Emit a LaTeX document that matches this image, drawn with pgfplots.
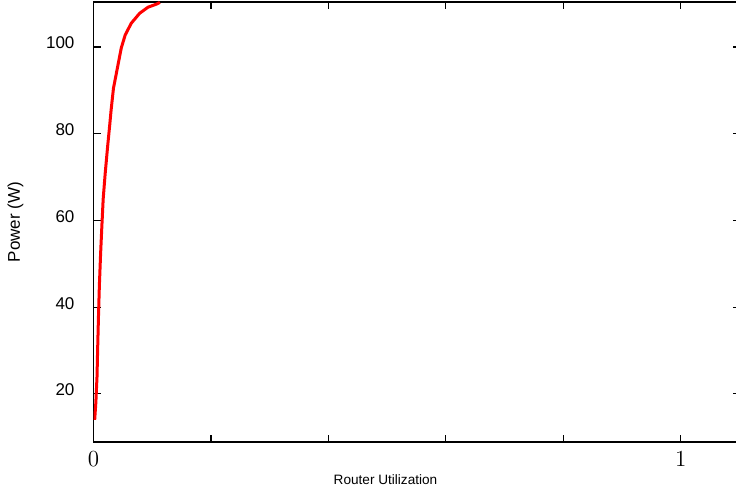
\documentclass[border=0pt]{standalone}
\usepackage{fontspec}
\setsansfont{Liberation Sans}
\usepackage{pgfplots}
\pgfplotsset{compat=1.18}
\begin{document}
\begin{tikzpicture}
\begin{axis}[
  name=ax,
  scale only axis,
  width=323pt, height=220pt,
  xmin=0, xmax=1.1,
  ymin=8.9, ymax=110.4,
  xtick={0,0.2,0.4,0.6,0.8,1},
  xticklabels={0,,,,,1},
  ytick={20,40,60,80,100},
  yticklabels={20,40,60,80,100},
  major tick length=3.5pt,
  tick style={black, line width=0.6pt},
  axis line style={black, line width=0.9pt},
  xticklabel style={font=\rmfamily\fontsize{11.5}{13}\selectfont, yshift=-1pt},
  yticklabel style={font=\sffamily\fontsize{8.5}{10}\selectfont, xshift=-6pt, yshift=2pt},
  xlabel={Router Utilization},
  ylabel={Power (W)},
  every axis x label/.style={at={(axis description cs:0.452,-0.0864)}, anchor=center, font=\sffamily\fontsize{6.8}{8}\selectfont},
  every axis y label/.style={at={(axis description cs:-0.1207,0.5)}, anchor=center, rotate=90, font=\sffamily\fontsize{8.5}{10}\selectfont},
  clip=true,
]
\addplot[red, line width=1.5pt] coordinates {
(0.002,14) (0.004,18) (0.006,24) (0.007,30) (0.0085,38) (0.010,45)
(0.012,52) (0.014,58) (0.0165,65) (0.020,71) (0.024,77) (0.0276,82)
(0.030,85.5) (0.0340,90.5) (0.0410,95.4) (0.0473,99.8) (0.0540,102.8)
(0.0643,105.5) (0.0786,107.8) (0.0928,109.2) (0.107,109.9) (0.113,110.3)
};
\end{axis}
\pgfresetboundingbox
\path[use as bounding box] ([xshift=-46.75pt,yshift=-25.5pt]ax.south west) rectangle ([xshift=-1.75pt,yshift=1pt]ax.north east);
\end{tikzpicture}
\end{document}
